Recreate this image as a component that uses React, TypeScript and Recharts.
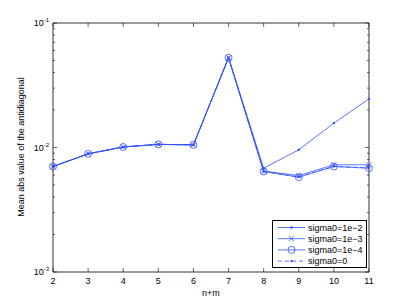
import { LineChart, Line, XAxis, YAxis } from 'recharts';

const nm = [2, 3, 4, 5, 6, 7, 8, 9, 10, 11];
const sigma1e2 = [0.00703, 0.0089, 0.0101, 0.0106, 0.0105, 0.0526, 0.00682, 0.00958, 0.0157, 0.0246];
const sigma1e3 = [0.00703, 0.0089, 0.0101, 0.0106, 0.0105, 0.0526, 0.00645, 0.00596, 0.00726, 0.00726];
const sigma1e4 = [0.00703, 0.0089, 0.0101, 0.0106, 0.0105, 0.0526, 0.00641, 0.00578, 0.00703, 0.00682];
const sigma0 = [0.00703, 0.0089, 0.0101, 0.0106, 0.0105, 0.0526, 0.00641, 0.00580, 0.00706, 0.00685];

const xTicks = [2, 3, 4, 5, 6, 7, 8, 9, 10, 11];
const decades = [0.001, 0.01, 0.1];
const decadeLabels = ['-3', '-2', '-1'];
const yTicks = [
  0.001, 0.002, 0.003, 0.004, 0.005, 0.006, 0.007, 0.008, 0.009,
  0.01, 0.02, 0.03, 0.04, 0.05, 0.06, 0.07, 0.08, 0.09, 0.1,
];

const data = nm.map((x, i) => ({
  x, s2: sigma1e2[i], s3: sigma1e3[i], s4: sigma1e4[i], s0: sigma0[i],
}));

const BLUE = '#3050ff';
const FONT = 'Liberation Sans, Arial, sans-serif';

const isDecade = (v: number) => decades.some(d => Math.abs(d - v) < 1e-9);

// tick x/y passed by recharts sit at the axis line
const LeftTick = (p: any) => {
  const { y, payload } = p;
  const x = 53;
  const major = isDecade(payload.value);
  const idx = decades.findIndex(d => Math.abs(d - payload.value) < 1e-9);
  return (
    <g>
      <line x1={x} x2={x + (major ? 4 : 2)} y1={y} y2={y} stroke="#000" strokeWidth={0.6} />
      {major && (
        <text x={x - 4} y={y + 3} textAnchor="end" fontSize={9} fontFamily={FONT} fill="#000">
          10<tspan dy={-4} fontSize={6}>{decadeLabels[idx]}</tspan>
        </text>
      )}
    </g>
  );
};

const RightTick = (p: any) => {
  const { y, payload } = p;
  const x = 369;
  const major = isDecade(payload.value);
  return <line x1={x} x2={x - (major ? 4 : 2)} y1={y} y2={y} stroke="#000" strokeWidth={0.6} />;
};

const BottomTick = (p: any) => {
  const { x, payload } = p;
  const y = 272;
  return (
    <g>
      <line x1={x} x2={x} y1={y} y2={y - 4} stroke="#000" strokeWidth={0.6} />
      <text x={x} y={y + 12} textAnchor="middle" fontSize={9} fontFamily={FONT} fill="#000">
        {payload.value}
      </text>
    </g>
  );
};

const TopTick = (p: any) => {
  const { x } = p;
  const y = 23;
  return <line x1={x} x2={x} y1={y} y2={y + 4} stroke="#000" strokeWidth={0.6} />;
};

const CrossDot = (p: any) => {
  const { cx, cy } = p;
  if (cx == null || cy == null) return null;
  return (
    <g stroke={BLUE} strokeWidth={0.8}>
      <line x1={cx - 2.5} y1={cy - 2.5} x2={cx + 2.5} y2={cy + 2.5} />
      <line x1={cx - 2.5} y1={cy + 2.5} x2={cx + 2.5} y2={cy - 2.5} />
    </g>
  );
};

const legendItems = [
  { label: 'sigma0=1e\u22122', marker: 'dot', dash: false },
  { label: 'sigma0=1e\u22123', marker: 'x', dash: false },
  { label: 'sigma0=1e\u22124', marker: 'o', dash: false },
  { label: 'sigma0=0', marker: 'dot', dash: true },
];

const LegendBox = () => (
  <div style={{
    position: 'absolute', left: 272, top: 220, width: 95, height: 48,
    border: '1px solid #000', background: '#fff', boxSizing: 'border-box',
  }}>
    <svg width={95} height={48} style={{ overflow: 'visible', display: 'block' }}>
      {legendItems.map((it, i) => {
        const y = 6.5 + i * 11.2;
        return (
          <g key={i}>
            <line x1={5} x2={32} y1={y} y2={y} stroke={BLUE} strokeWidth={0.8} strokeDasharray={it.dash ? '4 3' : undefined} />
            {it.marker === 'dot' && <circle cx={18.5} cy={y} r={1.2} fill={BLUE} />}
            {it.marker === 'x' && (
              <g stroke={BLUE} strokeWidth={0.8}>
                <line x1={16} y1={y - 2.5} x2={21} y2={y + 2.5} />
                <line x1={16} y1={y + 2.5} x2={21} y2={y - 2.5} />
              </g>
            )}
            {it.marker === 'o' && <circle cx={18.5} cy={y} r={3.5} fill="none" stroke={BLUE} strokeWidth={0.8} />}
            <text x={35} y={y + 3.2} fontSize={9} fontFamily={FONT} fill="#000">{it.label}</text>
          </g>
        );
      })}
    </svg>
  </div>
);

export default function App() {
  return (
    <div style={{ position: 'fixed', left: 0, top: 0, width: 409, height: 307, background: '#fff' }}>
      <LineChart width={409} height={307} data={data} margin={{ top: 22, right: 39, bottom: 5, left: 13 }}>
        <XAxis xAxisId="b" dataKey="x" type="number" domain={[2, 11]} ticks={xTicks} height={30}
          axisLine={{ stroke: '#000', strokeWidth: 0.8 }} tickLine={false} tick={<BottomTick />} interval={0} />
        <XAxis xAxisId="t" orientation="top" dataKey="x" type="number" domain={[2, 11]} ticks={xTicks} height={1}
          axisLine={{ stroke: '#000', strokeWidth: 0.8 }} tickLine={false} tick={<TopTick />} interval={0} />
        <YAxis yAxisId="l" scale="log" type="number" domain={[0.001, 0.1]} ticks={yTicks} width={40}
          allowDataOverflow axisLine={{ stroke: '#000', strokeWidth: 0.8 }} tickLine={false} tick={<LeftTick />} interval={0} />
        <YAxis yAxisId="r" orientation="right" scale="log" type="number" domain={[0.001, 0.1]} ticks={yTicks} width={1}
          allowDataOverflow axisLine={{ stroke: '#000', strokeWidth: 0.8 }} tickLine={false} tick={<RightTick />} interval={0} />
        <Line xAxisId="b" yAxisId="l" dataKey="s2" stroke={BLUE} strokeWidth={0.8} isAnimationActive={false}
          dot={{ r: 1.2, fill: BLUE, stroke: BLUE, strokeWidth: 0 }} />
        <Line xAxisId="b" yAxisId="l" dataKey="s3" stroke={BLUE} strokeWidth={0.8} isAnimationActive={false}
          dot={<CrossDot />} />
        <Line xAxisId="b" yAxisId="l" dataKey="s4" stroke={BLUE} strokeWidth={0.8} isAnimationActive={false}
          dot={{ r: 3.5, fill: 'none', stroke: BLUE, strokeWidth: 0.8 }} />
        <Line xAxisId="b" yAxisId="l" dataKey="s0" stroke={BLUE} strokeWidth={0.8} strokeDasharray="4 3" isAnimationActive={false}
          dot={{ r: 1.2, fill: BLUE, stroke: BLUE, strokeWidth: 0 }} />
        <text x={24} y={147} transform="rotate(-90 24 147)" textAnchor="middle" fontSize={9} fontFamily={FONT} fill="#000">
          Mean abs value of the antidiagonal
        </text>
        <text x={211} y={296} textAnchor="middle" fontSize={9} fontFamily={FONT} fill="#000">n+m</text>
      </LineChart>
      <LegendBox />
    </div>
  );
}
